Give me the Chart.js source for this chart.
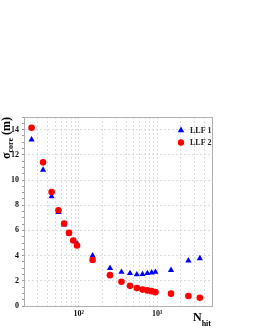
<!DOCTYPE html>
<html>
<head>
<meta charset="utf-8">
<script src="https://cdn.jsdelivr.net/npm/chart.js@4.4.0/dist/chart.umd.min.js"></script>
<style>
  html, body { margin: 0; padding: 0; background: #fff; }
  #wrap { width: 255px; height: 330px; }
</style>
</head>
<body>
<div id="wrap"><canvas id="myChart"></canvas></div>
<script>
const nhit = [25, 35, 45, 55, 65, 75, 85, 95, 150, 250, 350, 450, 550, 650, 750, 850, 950, 1500, 2500, 3500];
const llf1 = [13.2, 10.8, 8.7, 7.45, 6.45, 5.75, 5.2, 4.95, 4.0, 3.0, 2.7, 2.6, 2.5, 2.52, 2.6, 2.65, 2.7, 2.85, 3.6, 3.78];
const llf2 = [14.15, 11.4, 9.05, 7.6, 6.55, 5.8, 5.2, 4.8, 3.65, 2.45, 1.93, 1.6, 1.42, 1.3, 1.24, 1.18, 1.1, 0.98, 0.79, 0.66];
const xTicks = [20, 30, 40, 50, 60, 70, 80, 90, 100, 200, 300, 400, 500, 600, 700, 800, 900, 1000, 2000, 3000, 4000, 5000];
const xLabels = { 100: '10²', 1000: '10³' };

const serif = "'Liberation Serif', 'DejaVu Serif', serif";
const ctx = document.getElementById('myChart');

const pts = (ys) => nhit.map((x, i) => ({ x: x, y: ys[i] }));

// titles, frame and legend drawn on top of the chart
const extras = {
  id: 'extras',
  afterDraw(chart) {
    const c = chart.ctx;
    const a = chart.chartArea;
    c.save();
    c.strokeStyle = '#b0b0b0';
    c.lineWidth = 1;
    c.strokeRect(a.left + 0.5, a.top + 0.5, a.right - a.left, a.bottom - a.top);

    c.fillStyle = '#000';
    c.textBaseline = 'alphabetic';
    // y title: sigma_core (m)
    c.save();
    c.translate(10, 159);
    c.rotate(-Math.PI / 2);
    c.font = 'bold 12px ' + serif;
    c.fillText('σ', 0, 0);
    let w = c.measureText('σ').width;
    c.font = 'bold 8px ' + serif;
    c.fillText('core', w, 3);
    w += c.measureText('core').width;
    c.font = 'bold 12px ' + serif;
    c.fillText(' (m)', w, 0);
    c.restore();

    // x title: N_hit
    c.font = 'bold 12px ' + serif;
    c.fillText('N', 193, 321);
    const nw = c.measureText('N').width;
    c.font = 'bold 8px ' + serif;
    c.fillText('hit', 193 + nw, 326);

    // legend
    const ds = chart.data.datasets;
    ds.forEach((d, i) => {
      const y = 130 + i * 12.5;
      c.fillStyle = d.backgroundColor;
      if (d.pointStyle === 'triangle') {
        c.beginPath();
        c.moveTo(181, y - 3.5);
        c.lineTo(184.3, y + 2.3);
        c.lineTo(177.7, y + 2.3);
        c.closePath();
        c.fill();
      } else {
        c.beginPath();
        c.arc(181, y, 3.2, 0, Math.PI * 2);
        c.fill();
      }
      c.fillStyle = '#222';
      c.font = 'bold 8px ' + serif;
      c.textBaseline = 'middle';
      c.fillText(d.label, 190, y + 0.5);
    });
    c.restore();
  }
};

new Chart(ctx, {
  type: 'scatter',
  data: {
    datasets: [{
      label: 'LLF 1',
      data: pts(llf1),
      pointStyle: 'triangle',
      pointRadius: 3.6,
      backgroundColor: '#0000ff',
      borderColor: '#0000ff',
      borderWidth: 0,
      order: 1
    }, {
      label: 'LLF 2',
      data: pts(llf2),
      pointStyle: 'circle',
      pointRadius: 3.3,
      backgroundColor: '#ff0000',
      borderColor: '#ff0000',
      borderWidth: 0,
      order: 0
    }]
  },
  options: {
    responsive: true,
    maintainAspectRatio: false,
    animation: false,
    layout: { padding: { top: 117, right: 43, left: 0, bottom: 0 } },
    plugins: {
      legend: { display: false },
      tooltip: { enabled: false }
    },
    scales: {
      x: {
        type: 'logarithmic',
        min: 20,
        max: 5000,
        afterBuildTicks: (scale) => { scale.ticks = xTicks.map(v => ({ value: v })); },
        afterFit: (scale) => { scale.height = 24; },
        grid: { color: '#dcdcdc', tickLength: 0 },
        border: { display: false, dash: [2, 2] },
        ticks: {
          autoSkip: false,
          maxRotation: 0,
          padding: 3,
          color: '#111',
          font: { family: serif, size: 8, weight: 'bold' },
          callback: (v) => xLabels[v] || ''
        }
      },
      y: {
        min: 0,
        max: 15,
        afterFit: (scale) => { scale.width = 24; },
        grid: {
          color: (c) => (c.tick && c.tick.value % 2 === 0) ? '#dcdcdc' : 'rgba(0,0,0,0)',
          tickColor: '#999',
          tickLength: 2
        },
        border: { display: false, dash: [2, 2] },
        ticks: {
          stepSize: 0.5,
          autoSkip: false,
          padding: 3,
          color: '#111',
          font: { family: serif, size: 8, weight: 'bold' },
          callback: (v) => (v % 2 === 0) ? v : ''
        }
      }
    }
  },
  plugins: [extras]
});
</script>
</body>
</html>
